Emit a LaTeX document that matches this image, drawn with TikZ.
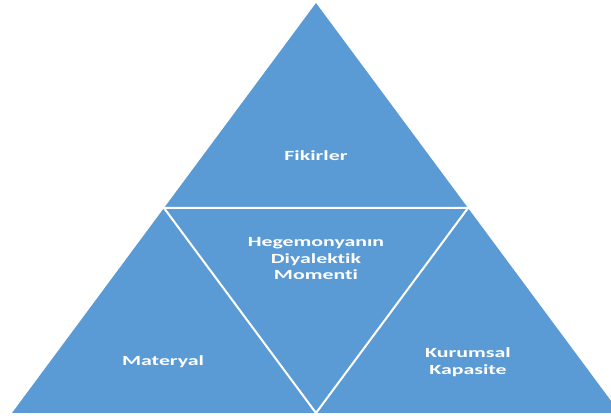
\documentclass[tikz,border=0pt]{standalone}
\usepackage{fontspec}
\usetikzlibrary{calc}
\newfontfamily\lblfont{Carlito Bold}[FakeStretch=1.56,Ligatures=NoCommon]
\definecolor{tri}{HTML}{5B9BD5}
\begin{document}
\begin{tikzpicture}[x=1pt,y=-1pt,
  lbl/.style={text=white,font=\lblfont\fontsize{14}{16.5}\selectfont,align=center,inner sep=0pt}]
\useasboundingbox (0,0) rectangle (611,419);
\coordinate (A) at (316,3);
\coordinate (L) at (12,413);
\coordinate (R) at (620,413);
\coordinate (ML) at ($(A)!0.5!(L)$);
\coordinate (MR) at ($(A)!0.5!(R)$);
\coordinate (MB) at ($(L)!0.5!(R)$);
\begin{scope}
\clip (0,0) rectangle (611,419);
\fill[tri] (A) -- (L) -- (R) -- cycle;
\draw[white,line width=2pt] (ML) -- (MR) -- (MB) -- cycle;
\end{scope}
\node[lbl] (f) at (316,156) {Fikirler};
\node[lbl] (h) at (316,259) {Hegemonyanın\\Diyalektik\\Momenti};
\node[lbl] (m) at (163,362) {Materyal};
\node[lbl] (k) at (468,362) {Kurumsal\\Kapasite};
\end{tikzpicture}
\end{document}
